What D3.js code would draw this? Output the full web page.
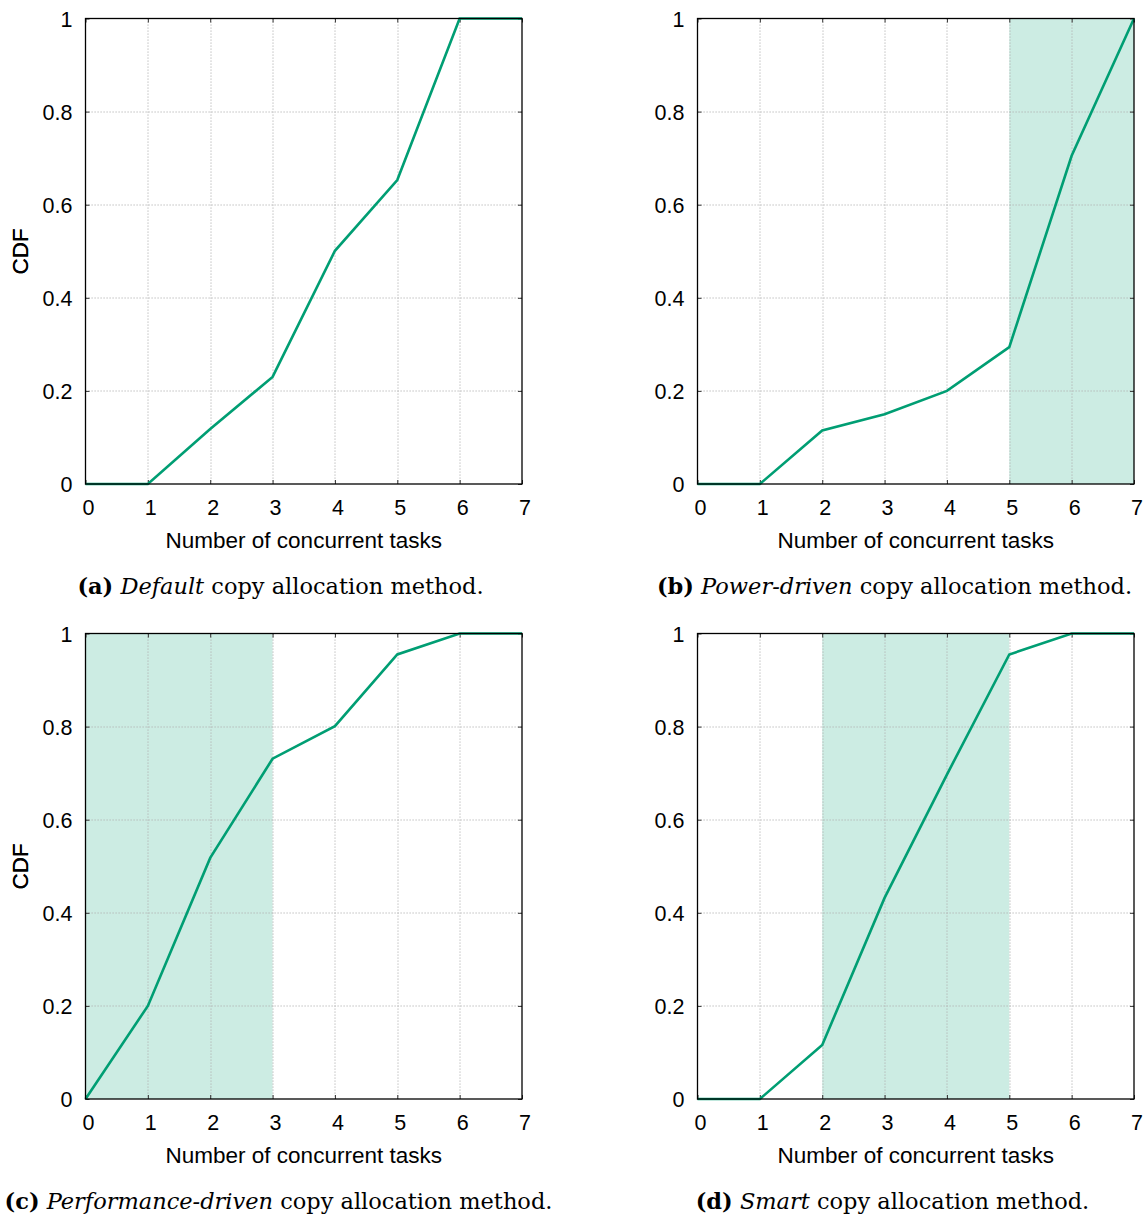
<!DOCTYPE html>
<html>
<head>
<meta charset="utf-8">
<script src="https://cdn.jsdelivr.net/npm/d3@7"></script>
<style>
  html, body { margin: 0; padding: 0; background: #fff; }
  svg { display: block; }
</style>
</head>
<body>
<svg id="chart" width="1146" height="1217"></svg>
<script>
// ---------------- DATA ----------------
const xValues = [0, 1, 2, 3, 4, 5, 6, 7];
const defaultCdf = [0, 0, 0.118, 0.230, 0.501, 0.653, 1, 1];
const powerCdf   = [0, 0, 0.115, 0.150, 0.200, 0.294, 0.705, 1];
const perfCdf    = [0, 0.200, 0.518, 0.731, 0.801, 0.955, 1, 1];
const smartCdf   = [0, 0, 0.116, 0.432, 0.697, 0.955, 1, 1];

const shadeDefault = null;
const shadePower = [5, 7];
const shadePerf = [0, 3];
const shadeSmart = [2, 5];

const xTicks = [0, 1, 2, 3, 4, 5, 6, 7];
const yTicks = [0, 0.2, 0.4, 0.6, 0.8, 1];
const yTickLabels = ["0", "0.2", "0.4", "0.6", "0.8", "1"];

const xTitle = "Number of concurrent tasks";
const yTitle = "CDF";

const captionLetters = ["(a)", "(b)", "(c)", "(d)"];
const captionMethods = ["Default", "Power-driven", "Performance-driven", "Smart"];
const captionTail = " copy allocation method.";

// ---------------- LAYOUT ----------------
const lineColor = "#009E73";
const plotW = 436.5, plotH = 465.5;
const panelOrigins = [
  { left: 85.5, top: 18.5, capX: 280.5 },
  { left: 697.5, top: 18.5, capX: 894.5 },
  { left: 85.5, top: 633.5, capX: 278.5 },
  { left: 697.5, top: 633.5, capX: 892.5 }
];
const captionWidths = [407, 479, 541, 395];
const seriesList = [defaultCdf, powerCdf, perfCdf, smartCdf];
const shades = [shadeDefault, shadePower, shadePerf, shadeSmart];

const svg = d3.select("#chart");
const sansFont = "'Liberation Sans', Arimo, Helvetica, Arial, sans-serif";
const serifFont = "'DejaVu Serif', 'Liberation Serif', serif";
const sansSize = 21.5;
const titleSize = 22.5;

panelOrigins.forEach((p, i) => {
  const g = svg.append("g").attr("transform", `translate(${p.left},${p.top})`);
  const x = d3.scaleLinear().domain([0, 7]).range([0, plotW]);
  const y = d3.scaleLinear().domain([0, 1]).range([plotH, 0]);

  if (shades[i]) {
    g.append("rect")
      .attr("x", x(shades[i][0]))
      .attr("y", y(1))
      .attr("width", x(shades[i][1]) - x(shades[i][0]))
      .attr("height", y(0) - y(1))
      .attr("fill", lineColor)
      .attr("fill-opacity", 0.2);
  }

  const grid = g.append("g").attr("stroke", "#b0b0b0").attr("stroke-width", 1)
    .attr("stroke-dasharray", "1.2,1.8");
  grid.selectAll("line.vx").data(xTicks.slice(1, -1)).enter().append("line")
    .attr("x1", d => Math.round(x(d)) + 0.5).attr("x2", d => Math.round(x(d)) + 0.5)
    .attr("y1", y(1)).attr("y2", y(0));
  grid.selectAll("line.hy").data(yTicks.slice(1, -1)).enter().append("line")
    .attr("x1", x(0)).attr("x2", x(7))
    .attr("y1", d => Math.round(y(d)) + 0.5).attr("y2", d => Math.round(y(d)) + 0.5);

  const axB = d3.axisBottom(x).tickValues(xTicks).tickSize(-4).tickPadding(15.5).tickFormat(d3.format("d"));
  const axT = d3.axisTop(x).tickValues(xTicks).tickSize(-4).tickFormat("");
  const axL = d3.axisLeft(y).tickValues(yTicks).tickSize(-4).tickPadding(13)
    .tickFormat((d, k) => yTickLabels[k]);
  const axR = d3.axisRight(y).tickValues(yTicks).tickSize(-4).tickFormat("");

  const styleAxis = sel => {
    sel.select(".domain").remove();
    sel.selectAll(".tick line").attr("stroke", "#333").attr("stroke-width", 1);
    sel.selectAll("text").attr("font-family", sansFont).attr("font-size", sansSize).attr("fill", "#000");
  };
  g.append("g").attr("transform", `translate(0,${plotH})`).call(axB).call(styleAxis)
    .selectAll(".tick text").attr("dx", 2.5);
  g.append("g").call(axT).call(styleAxis);
  g.append("g").call(axL).call(styleAxis)
    .selectAll(".tick text").attr("dy", "0.36em");
  g.append("g").attr("transform", `translate(${plotW},0)`).call(axR).call(styleAxis);

  const line = d3.line().x((d, k) => x(xValues[k])).y(d => y(d));
  g.append("path")
    .datum(seriesList[i])
    .attr("d", line)
    .attr("fill", "none")
    .attr("stroke", lineColor)
    .attr("stroke-width", 2.6)
    .attr("stroke-linejoin", "miter");

  g.append("rect")
    .attr("x", 0).attr("y", 0).attr("width", plotW).attr("height", plotH)
    .attr("fill", "none").attr("stroke", "#000").attr("stroke-width", 1.3);

  g.append("text")
    .attr("x", plotW / 2).attr("y", plotH + 64)
    .attr("text-anchor", "middle")
    .attr("font-family", sansFont).attr("font-size", titleSize)
    .text(xTitle);
  g.append("text")
    .attr("transform", `translate(${28 - p.left},${plotH / 2}) rotate(-90)`)
    .attr("text-anchor", "middle")
    .attr("font-family", sansFont).attr("font-size", titleSize)
    .text(yTitle);

  const cap = svg.append("text")
    .attr("class", "caption")
    .attr("x", p.capX).attr("y", p.top + plotH + 109.5)
    .attr("text-anchor", "middle")
    .attr("font-family", serifFont).attr("font-size", 20).attr("fill", "#000");
  cap.append("tspan").attr("font-weight", "bold").text(captionLetters[i]);
  cap.append("tspan").text(" ");
  cap.append("tspan").attr("font-style", "italic").text(captionMethods[i]);
  cap.append("tspan").text(captionTail);
});

// fit caption font size to the reference caption widths (single shared size)
const caps = svg.selectAll("text.caption").nodes();
let ratioSum = 0;
caps.forEach((n, k) => { ratioSum += captionWidths[k] / n.getComputedTextLength(); });
const capSize = 20 * ratioSum / caps.length;
caps.forEach(n => d3.select(n).attr("font-size", capSize));
</script>
</body>
</html>
